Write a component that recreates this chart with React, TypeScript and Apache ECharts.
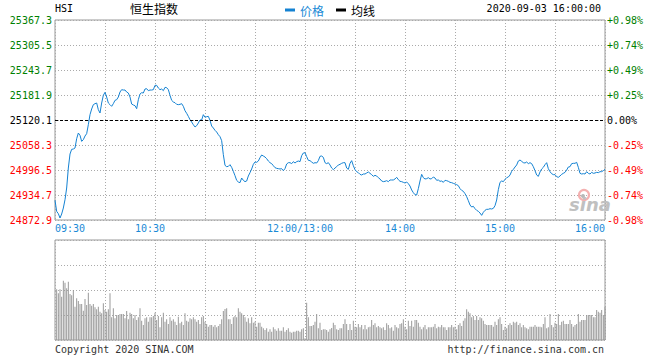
import React, { useEffect, useRef } from "react";
import * as echarts from "echarts";

const prevClose = 25120.1;
const priceTicks = [24872.9, 24934.7, 24996.5, 25058.3, 25120.1, 25181.9, 25243.7, 25305.5, 25367.3];
const priceTickLabels = ["24872.9", "24934.7", "24996.5", "25058.3", "25120.1", "25181.9", "25243.7", "25305.5", "25367.3"];
const pctTickLabels = ["-0.98%", "-0.74%", "-0.49%", "-0.25%", "0.00%", "+0.25%", "+0.49%", "+0.74%", "+0.98%"];
const timeTickMinutes = [0, 60, 150, 210, 270, 330];
const timeTickLabels = ["09:30", "10:30", "12:00/13:00", "14:00", "15:00", "16:00"];

// one value per minute, 09:30 .. 12:00 / 13:00 .. 16:00
const prices = [
  24921.5, 24894.3, 24888.5, 24877.8, 24887.7, 24902.5, 24923.1, 24952.0, 25001.4, 25036.0,
  25047.6, 25048.4, 25050.9, 25073.9, 25087.9, 25082.2, 25067.3, 25071.5, 25080.5, 25086.3,
  25108.5, 25133.3, 25147.3, 25158.0, 25160.5, 25162.1, 25145.6, 25137.4, 25162.1, 25181.1,
  25188.5, 25176.9, 25162.1, 25158.0, 25153.9, 25160.5, 25168.7, 25170.3, 25176.9, 25189.3,
  25195.1, 25194.2, 25194.2, 25189.3, 25186.8, 25176.9, 25159.6, 25157.2, 25155.5, 25148.1,
  25170.3, 25184.3, 25187.6, 25186.8, 25196.7, 25197.5, 25192.6, 25194.2, 25194.2, 25195.1,
  25205.8, 25205.8, 25199.2, 25195.1, 25196.7, 25192.6, 25200.8, 25200.0, 25195.1, 25181.1,
  25168.7, 25164.6, 25162.9, 25158.8, 25158.0, 25158.8, 25160.5, 25153.9, 25143.1, 25136.6,
  25129.1, 25120.9, 25115.1, 25108.5, 25102.8, 25106.1, 25112.7, 25120.1, 25120.1, 25133.3,
  25126.7, 25128.3, 25129.1, 25119.3, 25105.2, 25100.3, 25094.5, 25090.4, 25083.8, 25078.9,
  25069.0, 25034.4, 25008.0, 25004.7, 25005.5, 25009.7, 25003.1, 24993.2, 24982.5, 24970.9,
  24966.8, 24965.2, 24976.7, 24971.0, 24967.7, 24969.3, 24981.7, 24989.9, 24999.0, 25010.5,
  25016.3, 25015.5, 25018.7, 25027.0, 25033.6, 25031.1, 25028.6, 25024.5, 25018.7, 25014.6,
  25012.2, 25007.2, 25002.3, 25000.6, 24999.8, 24999.0, 24999.8, 24994.9, 25000.0, 25011.3,
  25014.6, 25014.6, 25012.2, 25017.1, 25013.8, 25017.1, 25018.7, 25017.1, 25031.9, 25038.5,
  25039.3, 25029.5, 25020.4, 25019.6, 25016.3, 25013.0, 25014.6, 25013.8, 25019.6, 25030.3,
  25031.1, 25027.8, 25014.6, 25012.2, 25014.6, 25008.9, 25001.4, 24997.3, 25001.4, 25004.7,
  25008.9, 25010.5, 25013.0, 25014.6, 25014.6, 25001.4, 24998.1, 25013.0, 25019.6, 25007.2,
  24997.3, 24992.4, 24989.9, 24985.8, 24984.1, 24986.6, 24986.6, 24989.1, 24991.6, 24988.3,
  24985.0, 24980.8, 24983.3, 24981.7, 24977.5, 24974.3, 24969.3, 24967.7, 24968.5, 24970.1,
  24967.7, 24971.8, 24971.8, 24971.8, 24974.3, 24978.4, 24972.6, 24968.5, 24967.7, 24966.0,
  24964.4, 24966.8, 24962.7, 24956.9, 24947.1, 24940.5, 24935.5, 24934.7, 24950.4, 24969.3,
  24985.8, 24977.5, 24974.3, 24975.1, 24977.5, 24974.3, 24975.1, 24979.2, 24976.7, 24971.0,
  24971.8, 24968.5, 24969.3, 24966.0, 24971.0, 24970.1, 24968.5, 24966.0, 24965.2, 24963.5,
  24961.9, 24960.2, 24957.8, 24950.4, 24946.2, 24943.8, 24938.0, 24930.6, 24920.7, 24910.0,
  24905.0, 24906.7, 24900.9, 24896.8, 24894.3, 24890.2, 24884.4, 24891.9, 24896.8, 24899.3,
  24899.3, 24900.9, 24900.1, 24901.7, 24908.3, 24922.3, 24947.9, 24966.0, 24969.3, 24967.7,
  24973.4, 24977.5, 24979.2, 24984.1, 24993.2, 24998.1, 25003.9, 25008.9, 25018.7, 25021.2,
  25017.9, 25014.6, 25013.8, 25016.3, 25012.2, 25014.6, 25012.2, 25004.7, 24994.9, 24984.1,
  24980.8, 24991.6, 24999.0, 25003.1, 25009.7, 25014.6, 24999.8, 24992.4, 24987.4, 24985.0,
  24985.0, 24980.0, 24978.4, 24981.7, 24985.8, 24988.3, 24990.7, 24996.5, 25003.9, 25004.7,
  25012.2, 25013.0, 25013.0, 25015.5, 25003.1, 24988.3, 24986.6, 24987.4, 24986.6, 24992.4,
  24988.3, 24986.6, 24990.7, 24988.3, 24989.1, 24990.7, 24989.9, 24992.4, 24992.4, 24994.9, 24998.1,
];

const volumes = [
  0,
  50.7, 46.7, 50.7, 43.3, 59.3, 57.3, 51.7, 58.3, 46, 44.7,
  50, 33.3, 41.7, 39, 36, 36, 29.3, 41, 35, 47.3,
  36, 34.3, 36, 32.7, 30.7, 33.3, 28.3, 26.7, 36.7, 30,
  28.3, 30.7, 46.7, 22.7, 31.7, 21.7, 25, 25, 26, 26,
  26, 21.7, 29, 20.7, 27.3, 26, 21.7, 25, 20, 22.7,
  31.7, 19.3, 15, 21.7, 22.7, 18.3, 22.7, 22.7, 24, 27.3,
  20, 24, 12.7, 22.7, 27.3, 18.3, 20.7, 16, 22.7, 19.3,
  20.7, 18.3, 15, 23.3, 16.7, 18.3, 15, 26.7, 19.3, 18.3,
  21.7, 20.7, 22.7, 20.7, 18.3, 20, 16, 22.7, 24, 18.3,
  16, 13.3, 15, 15, 13.3, 15, 12.7, 14, 16, 20.7,
  29, 31, 31.7, 20.7, 20.7, 16, 22.7, 24, 22.7, 31.7,
  28.3, 26.7, 25, 22.7, 18.3, 21.7, 16.7, 22.7, 17.3, 18.3,
  13.3, 17.3, 17.3, 13.3, 11.7, 10, 11.7, 8.3, 10.7, 8.3,
  12.7, 10.7, 9.3, 11.7, 9.3, 9.3, 12.7, 8.3, 10, 11.7,
  8.3, 7.3, 8.3, 8.3, 9.3, 9.3, 8.3, 10.7, 11.7, 1.7,
  37.3, 22.7, 14, 14, 15, 18.3, 26, 11.7, 17.3, 10,
  10.7, 10.7, 10, 8.3, 10.7, 12, 17.3, 15, 10.7, 10,
  11.7, 11.7, 16, 20.7, 16, 10, 16, 10, 19.3, 13.3,
  12.7, 16, 12.7, 15, 10.7, 15, 10.7, 12.7, 13.3, 20,
  15, 16.7, 12.7, 14, 12.7, 11.7, 12.7, 10, 16.7, 15,
  11.7, 12.7, 9.3, 15, 12.7, 11.7, 16, 16.7, 20.7, 13.3,
  10.7, 19.3, 14, 19.3, 13.3, 20, 20, 17.3, 13.3, 10.7,
  12.7, 15, 10.7, 12.7, 12.7, 12.7, 13.3, 16, 11.7, 13.3,
  12.7, 15, 12.7, 12.7, 10, 12.7, 12.7, 15, 12.7, 13.3,
  10.7, 15, 16.7, 14, 19.3, 21.7, 30.7, 28.3, 26.7, 22.7,
  24, 20, 24, 20, 22.7, 21.7, 19.3, 16, 15, 15,
  15, 15, 13.3, 18.3, 15, 20.7, 22.7, 16, 10, 13.3,
  11.7, 15, 16.7, 15, 18.3, 17.3, 18.3, 15, 16.7, 12.7,
  15, 12.7, 11.7, 10.7, 13.3, 13.3, 13.3, 15, 13.3, 13.3,
  13.3, 12.7, 16, 22.7, 11.7, 12.7, 26, 15, 12.7, 17.3,
  16, 26, 15, 18.3, 19.3, 16, 16, 16, 20, 16,
  13.3, 15, 16, 26, 18.3, 20, 20, 20, 25, 25,
  25, 25, 22.7, 22.7, 30, 28.3, 27.3, 30, 25, 33.3,
];

const MONO = "'DejaVu Sans Mono', 'Liberation Mono', monospace";
const CJK = "'Noto Sans CJK SC', sans-serif";
const LINE_BLUE = "#1482d2";
const LABEL_BLUE = "#1a8ad6";
const GRID_DOT = { color: "#aaaaaa", type: [1, 2] as number[], width: 1 };

function tickColor(i: number) {
  if (i > 4) return "#008000";
  if (i < 4) return "#ff0000";
  return "#000000";
}

export default function App() {
  const ref = useRef<HTMLDivElement>(null);

  useEffect(() => {
    if (!ref.current) return;
    const chart = echarts.init(ref.current, undefined, { renderer: "svg" });
    const lastIdx = timeTickMinutes.length - 1;

    const xBase = {
      type: "value" as const,
      min: 0,
      max: 330,
      interval: 30,
      axisLine: { show: false },
      axisTick: { show: false },
      splitLine: { show: true, lineStyle: GRID_DOT },
    };

    const option: any = {
      animation: false,
      backgroundColor: "#ffffff",
      legend: {
        left: 285,
        top: 4,
        padding: 0,
        icon: "rect",
        itemWidth: 10,
        itemHeight: 3,
        itemGap: 12,
        selectedMode: false,
        textStyle: { fontFamily: CJK, fontSize: 12 },
        data: [
          { name: "价格", textStyle: { color: LABEL_BLUE } },
          { name: "均线", textStyle: { color: "#000" } },
        ],
      },
      grid: [
        { left: 55, top: 20, width: 550, height: 200, show: true, borderColor: "#999", borderWidth: 1, backgroundColor: "transparent" },
        { left: 55, top: 240, width: 550, height: 100, show: true, borderColor: "#999", borderWidth: 1, backgroundColor: "transparent" },
      ],
      xAxis: [
        {
          ...xBase,
          gridIndex: 0,
          axisLabel: {
            show: true,
            margin: 3,
            fontFamily: MONO,
            fontSize: 10,
            color: LABEL_BLUE,
            formatter: (v: number) => {
              const i = timeTickMinutes.indexOf(Math.round(v));
              if (i < 0) return "";
              const t = timeTickLabels[i];
              if (i === 0) return `{s|${t}}`;
              if (i === lastIdx) return `{e|${t}}`;
              return `{m|${t}}`;
            },
            rich: {
              s: { padding: [0, 0, 0, 30], fontFamily: MONO, fontSize: 10, color: LABEL_BLUE },
              e: { padding: [0, 30, 0, 0], fontFamily: MONO, fontSize: 10, color: LABEL_BLUE },
              m: { padding: [0, 10, 0, 0], fontFamily: MONO, fontSize: 10, color: LABEL_BLUE },
            },
          },
        },
        { ...xBase, gridIndex: 1, axisLabel: { show: false } },
      ],
      yAxis: [
        {
          gridIndex: 0,
          type: "value",
          position: "left",
          min: -4,
          max: 4,
          interval: 1,
          axisLine: { show: false },
          axisTick: { show: false },
          splitLine: { show: true, lineStyle: GRID_DOT },
          axisLabel: {
            margin: 3,
            fontFamily: MONO,
            fontSize: 10,
            padding: [0, 0, 5, 0],
            formatter: (v: number) => priceTickLabels[Math.round(v) + 4] ?? "",
            color: (v: any) => tickColor(Math.round(Number(v)) + 4),
          },
        },
        {
          gridIndex: 0,
          type: "value",
          position: "right",
          min: -4,
          max: 4,
          interval: 1,
          axisLine: { show: false },
          axisTick: { show: false },
          splitLine: { show: false },
          axisLabel: {
            margin: 2,
            fontFamily: MONO,
            fontSize: 10,
            padding: [0, 0, 5, 0],
            formatter: (v: number) => pctTickLabels[Math.round(v) + 4] ?? "",
            color: (v: any) => tickColor(Math.round(Number(v)) + 4),
          },
        },
        {
          gridIndex: 0,
          type: "value",
          min: priceTicks[0],
          max: priceTicks[priceTicks.length - 1],
          show: false,
          splitLine: { show: false },
        },
        {
          gridIndex: 1,
          type: "value",
          min: 0,
          max: 100,
          interval: 25,
          axisLine: { show: false },
          axisTick: { show: false },
          axisLabel: { show: false },
          splitLine: { show: true, lineStyle: GRID_DOT },
        },
      ],
      series: [
        {
          name: "价格",
          type: "line",
          xAxisIndex: 0,
          yAxisIndex: 2,
          color: LINE_BLUE,
          showSymbol: false,
          symbol: "none",
          lineStyle: { color: LINE_BLUE, width: 1 },
          data: prices.map((p, i) => [i, p]),
          markLine: {
            silent: true,
            symbol: ["none", "none"],
            label: { show: false },
            lineStyle: { color: "#000", type: [3, 2], width: 1 },
            data: [{ yAxis: prevClose }],
          },
          z: 3,
        },
        {
          name: "均线",
          type: "line",
          xAxisIndex: 0,
          yAxisIndex: 2,
          color: "#000",
          showSymbol: false,
          data: [],
        },
        {
          name: "成交量",
          type: "bar",
          xAxisIndex: 1,
          yAxisIndex: 3,
          barWidth: 1,
          itemStyle: { color: "#999999" },
          data: volumes.map((v, i) => [i, v]),
        },
      ],
      graphic: [
        { type: "text", left: 55, top: 3, style: { text: "HSI", font: `10px ${MONO}`, fill: "#000" } },
        { type: "text", left: 130, top: 2, style: { text: "恒生指数", font: `12px ${CJK}`, fill: "#000" } },
        { type: "text", right: 59, top: 3, style: { text: "2020-09-03 16:00:00", font: `10px ${MONO}`, fill: "#000" } },
        { type: "text", left: 55, top: 344, style: { text: "Copyright 2020 SINA.COM", font: `10px ${MONO}`, fill: "#333" } },
        { type: "text", right: 56, top: 344, style: { text: "http://finance.sina.com.cn", font: `10px ${MONO}`, fill: "#333" } },
        { type: "circle", shape: { cx: 584, cy: 195, r: 5 }, style: { fill: "none", stroke: "#f4b0b0", lineWidth: 2.2 }, z: 1 },
        { type: "circle", shape: { cx: 583, cy: 196, r: 2 }, style: { fill: "#b8b8b8" }, z: 1 },
        { type: "text", left: 569, top: 195, style: { text: "sina", font: "italic bold 18px 'DejaVu Sans', sans-serif", fill: "#c0c0c0" }, z: 1 },
      ],
    };

    chart.setOption(option);
    return () => chart.dispose();
  }, []);

  return (
    <div
      ref={ref}
      style={{ position: "fixed", left: 0, top: 0, width: 660, height: 360, background: "#fff" }}
    />
  );
}
